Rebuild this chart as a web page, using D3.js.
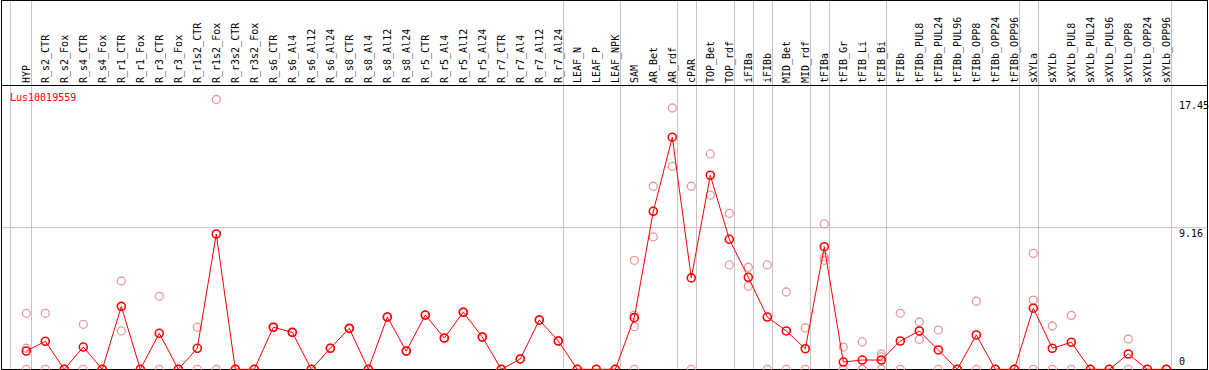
<!DOCTYPE html>
<html>
<head>
<meta charset="utf-8">
<script src="https://cdn.jsdelivr.net/npm/d3@7"></script>
<style>
  body { margin: 0; background: #fff; }
  svg { display: block; }
  text { font-family: "DejaVu Sans Mono", monospace; font-size: 10px; }
</style>
</head>
<body>
<script>
var geneName = "Lus10019559";

var labels = ["HYP", "R_s2_CTR", "R_s2_Fox", "R_s4_CTR", "R_s4_Fox", "R_r1_CTR", "R_r1_Fox",
  "R_r3_CTR", "R_r3_Fox", "R_r1s2_CTR", "R_r1s2_Fox", "R_r3s2_CTR", "R_r3s2_Fox",
  "R_s6_CTR", "R_s6_Al4", "R_s6_Al12", "R_s6_Al24", "R_s8_CTR", "R_s8_Al4", "R_s8_Al12", "R_s8_Al24",
  "R_r5_CTR", "R_r5_Al4", "R_r5_Al12", "R_r5_Al24", "R_r7_CTR", "R_r7_Al4", "R_r7_Al12", "R_r7_Al24",
  "LEAF_N", "LEAF_P", "LEAF_NPK", "SAM", "AR_Bet", "AR_rdf", "cPAR", "TOP_Bet", "TOP_rdf",
  "iFIBa", "iFIBb", "MID_Bet", "MID_rdf", "tFIBa", "tFIB_Gr", "tFIB_Li", "tFIB_Bi", "tFIBb",
  "tFIBb_PUL8", "tFIBb_PUL24", "tFIBb_PUL96", "tFIBb_OPP8", "tFIBb_OPP24", "tFIBb_OPP96",
  "sXYLa", "sXYLb", "sXYLb_PUL8", "sXYLb_PUL24", "sXYLb_PUL96", "sXYLb_OPP8", "sXYLb_OPP24", "sXYLb_OPP96"];

// mean expression per sample
var means = [1.18, 1.81, 0, 1.44, 0, 4.07, 0, 2.33, 0, 1.36, 8.75, 0, 0,
  2.72, 2.39, 0, 1.36, 2.65, 0, 3.38, 1.18,
  3.51, 2.02, 3.69, 2.09, 0, 0.67, 3.19, 1.83,
  0, 0, 0, 3.34, 10.22, 15.01, 5.91, 12.55, 8.41,
  5.95, 3.38, 2.48, 1.33, 7.93, 0.47, 0.6, 0.6, 1.83,
  2.48, 1.25, 0, 2.22, 0, 0,
  3.95, 1.36, 1.75, 0, 0, 0.99, 0, 0];

// individual replicates per sample
var replicates = [[3.62, 1.36, 0], [3.62, 0], [0, 0], [2.91, 0], [0, 0], [5.71, 2.48], [0, 0],
  [4.72, 0], [0, 0], [2.72, 0], [17.45, 0], [0, 0], [0, 0],
  [2.72, 2.72], [2.39, 2.39], [0, 0], [1.36, 1.36], [2.65, 2.65], [0, 0], [3.38, 3.38], [1.18, 1.18],
  [3.51, 3.51], [2.02, 2.02], [3.69, 3.69], [2.09, 2.09], [0, 0], [0.67, 0.67], [3.19, 3.19], [1.83, 1.83],
  [0, 0], [0, 0], [0, 0], [7.05, 3.51, 2.76, 0], [11.84, 8.56], [16.9, 13.13], [11.84, 0], [13.93, 11.27], [10.09, 6.75],
  [6.6, 5.37], [6.75, 0], [5.0, 0], [2.67, 0], [9.4, 7.25, 7.05], [1.44, 0, 0], [1.77, 0, 0], [0.99, 0.8, 0], [3.62, 0],
  [3.06, 1.94], [2.54, 0], [0, 0], [4.4, 0], [0, 0], [0, 0],
  [7.5, 4.48, 0], [2.8, 0], [3.49, 0], [0, 0], [0, 0], [1.96, 0], [0, 0], [0, 0]];

// group separators drawn after these samples
var groupEnds = ["HYP", "R_r7_Al24", "LEAF_NPK", "AR_rdf", "cPAR", "TOP_rdf", "iFIBa", "iFIBb",
  "MID_rdf", "tFIBa", "tFIB_Bi", "tFIBb_OPP96", "sXYLa", "sXYLb_OPP96"];

var yTicks = [0, 9.16, 17.45];

var width = 1209, height = 370,
  headerBottom = 85, plotBottom = 369.3, plotTop = 99.5,
  red = "#ff0000", pink = "#e89a9a", grey = "#c4c4c4";

var x = d3.scalePoint().domain(labels).range([26.3, 1166.3]);
var y = d3.scaleLinear().domain([0, d3.max(yTicks)]).range([plotBottom, plotTop]);

var svg = d3.select("body").append("svg")
  .attr("width", width)
  .attr("height", height);

// grey grid
svg.append("line")
  .attr("x1", 1).attr("x2", 1207)
  .attr("y1", y(9.16)).attr("y2", y(9.16))
  .attr("stroke", grey);

var seps = [x(labels[0]) - 16].concat(groupEnds.map(function (d) { return x(d) + 4.2; }));
svg.selectAll(".sep").data(seps).enter().append("line")
  .attr("class", "sep")
  .attr("x1", function (d) { return Math.round(d) + 0.5; })
  .attr("x2", function (d) { return Math.round(d) + 0.5; })
  .attr("y1", 0).attr("y2", plotBottom)
  .attr("stroke", grey);

// frame
svg.append("rect")
  .attr("x", 1.5).attr("y", 0.5)
  .attr("width", 1206).attr("height", 369)
  .attr("fill", "none").attr("stroke", "#000");
svg.append("line")
  .attr("x1", 1).attr("x2", 1207)
  .attr("y1", headerBottom + 0.5).attr("y2", headerBottom + 0.5)
  .attr("stroke", "#000");

// sample labels
svg.selectAll(".lab").data(labels).enter().append("text")
  .attr("class", "lab")
  .attr("transform", function (d) { return "translate(" + (x(d) + 4) + "," + (headerBottom - 2) + ") rotate(-90)"; })
  .attr("fill", "#000")
  .text(function (d) { return d; });

// right hand value labels
svg.selectAll(".tick").data(yTicks).enter().append("text")
  .attr("class", "tick")
  .attr("x", 1179)
  .attr("y", function (d) { return d === 0 ? y(d) - 4 : y(d) + 9; })
  .attr("fill", "#000")
  .text(function (d) { return d; });

svg.append("text")
  .attr("x", 10).attr("y", 101)
  .attr("fill", red)
  .text(geneName);

// replicates
var reps = [];
replicates.forEach(function (arr, i) {
  arr.forEach(function (v) { reps.push({ label: labels[i], value: v }); });
});
svg.selectAll(".rep").data(reps).enter().append("circle")
  .attr("class", "rep")
  .attr("cx", function (d) { return x(d.label); })
  .attr("cy", function (d) { return y(d.value); })
  .attr("r", 4)
  .attr("fill", "none")
  .attr("stroke", pink)
  .attr("stroke-width", 1.3);

// mean line + points
var line = d3.line()
  .x(function (d, i) { return x(labels[i]); })
  .y(function (d) { return y(d); });

svg.append("path")
  .datum(means)
  .attr("d", line)
  .attr("fill", "none")
  .attr("stroke", red)
  .attr("stroke-width", 1);

svg.selectAll(".mean").data(means).enter().append("circle")
  .attr("class", "mean")
  .attr("cx", function (d, i) { return x(labels[i]); })
  .attr("cy", function (d) { return y(d); })
  .attr("r", 4)
  .attr("fill", "none")
  .attr("stroke", red)
  .attr("stroke-width", 1.6);
</script>
</body>
</html>
